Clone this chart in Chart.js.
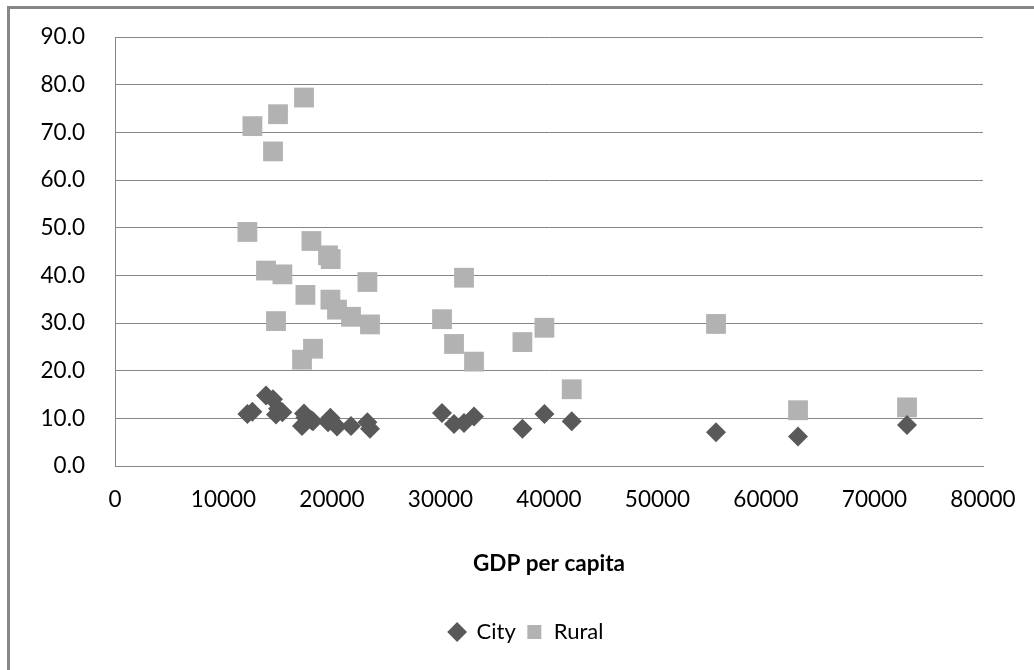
<!DOCTYPE html>
<html>
<head>
<meta charset="utf-8">
<script src="https://cdn.jsdelivr.net/npm/chart.js@4"></script>
<style>
  html, body { margin: 0; padding: 0; background: #ffffff; overflow: hidden; }
  #wrap { position: relative; width: 1034px; height: 670px; }
  #frame { position: absolute; left: 7px; top: 6px; width: 1100px; height: 760px;
           border-left: 3px solid #878787; border-top: 3px solid #878787; box-sizing: border-box; }
  #c { position: absolute; left: 0; top: 0; }
</style>
</head>
<body>
<div id="wrap">
  <div id="frame"></div>
  <canvas id="c" width="1034" height="670"></canvas>
</div>
<script>
// GDP per capita for each country (shared by both series)
const gdpPerCapita = [
  12203, 12664, 13918, 14563, 14839, 15024, 15429,
  17236, 17420, 17549, 18102, 18250, 19632, 19853, 19881, 20462,
  21752, 23263, 23503, 30140, 31246, 32167, 33089,
  37550, 39578, 42094, 55394, 62952, 72998
];

// City values
const cityValues = [
  10.9, 11.4, 14.8, 14.0, 10.8, 12.0, 11.3,
  8.4, 11.0, 10.2, 9.6, 9.4, 9.2, 10.1, 9.6, 8.3,
  8.4, 9.2, 7.8, 11.1, 8.8, 9.0, 10.4,
  7.8, 10.9, 9.4, 7.1, 6.2, 8.6
];

// Rural values
const ruralValues = [
  49.1, 71.3, 41.0, 66.0, 30.4, 73.8, 40.2,
  22.3, 77.3, 35.9, 47.2, 24.6, 44.2, 34.9, 43.4, 32.8,
  31.3, 38.6, 29.7, 30.8, 25.6, 39.5, 21.9,
  26.0, 29.0, 16.1, 29.8, 11.7, 12.3
];

const seriesNames = ['City', 'Rural'];
const xTitle = 'GDP per capita';
const xTicks = [0, 10000, 20000, 30000, 40000, 50000, 60000, 70000, 80000];
const yTicks = [0, 10, 20, 30, 40, 50, 60, 70, 80, 90];

const toPoints = (xs, ys) => xs.map((x, i) => ({ x: x, y: ys[i] }));

const FONT = 'Lato, "Open Sans", sans-serif';
const gridColor = '#868686';
const noTick = 'rgba(0,0,0,0)';

// The legend sits a little left of the plot centre: widen its box leftwards.
const legendShift = {
  id: 'legendShift',
  afterLayout(chart) {
    const lg = chart.legend;
    if (!lg) return;
    lg.left = 69;
    lg.width = lg.right - lg.left;
  }
};

new Chart(document.getElementById('c'), {
  type: 'scatter',
  data: {
    datasets: [
      {
        label: seriesNames[0],
        data: toPoints(gdpPerCapita, cityValues),
        pointStyle: 'rectRot',
        pointRadius: 10,
        pointHoverRadius: 10,
        backgroundColor: '#595959',
        borderColor: '#595959',
        borderWidth: 0
      },
      {
        label: seriesNames[1],
        data: toPoints(gdpPerCapita, ruralValues),
        pointStyle: 'rect',
        pointRadius: 14,
        pointHoverRadius: 14,
        backgroundColor: '#b2b2b2',
        borderColor: '#b2b2b2',
        borderWidth: 0
      }
    ]
  },
  plugins: [legendShift],
  options: {
    responsive: false,
    animation: false,
    events: [],
    layout: { padding: { left: 0, right: 51, top: 37, bottom: 17 } },
    plugins: {
      tooltip: { enabled: false },
      legend: {
        position: 'bottom',
        align: 'center',
        labels: {
          usePointStyle: true,
          boxWidth: 17,
          boxHeight: 14,
          padding: 10,
          color: '#000000',
          font: { family: FONT, size: 22 }
        }
      }
    },
    scales: {
      x: {
        type: 'linear',
        min: xTicks[0],
        max: xTicks[xTicks.length - 1],
        afterBuildTicks: (scale) => { scale.ticks = xTicks.map(v => ({ value: v })); },
        afterFit: (scale) => { scale.height = 145; },
        grid: { display: true, drawOnChartArea: false, drawTicks: true, tickLength: 20, tickColor: noTick },
        border: { display: true, color: gridColor, width: 1 },
        ticks: {
          padding: 0,
          color: '#000000',
          font: { family: FONT, size: 22.5 },
          maxRotation: 0,
          callback: (v) => String(v)
        },
        title: {
          display: true,
          text: xTitle,
          color: '#000000',
          font: { family: FONT, size: 22.5, weight: 'bold' },
          padding: { top: 0, bottom: 34 }
        }
      },
      y: {
        type: 'linear',
        min: yTicks[0],
        max: yTicks[yTicks.length - 1],
        afterBuildTicks: (scale) => { scale.ticks = yTicks.map(v => ({ value: v })); },
        afterFit: (scale) => { scale.width = 115; },
        grid: { color: gridColor, lineWidth: 1, drawTicks: true, tickLength: 30, tickColor: noTick },
        border: { display: true, color: gridColor, width: 1 },
        ticks: {
          padding: 0,
          color: '#000000',
          font: { family: FONT, size: 22.5 },
          callback: (v) => Number(v).toFixed(1)
        }
      }
    }
  }
});
</script>
</body>
</html>
